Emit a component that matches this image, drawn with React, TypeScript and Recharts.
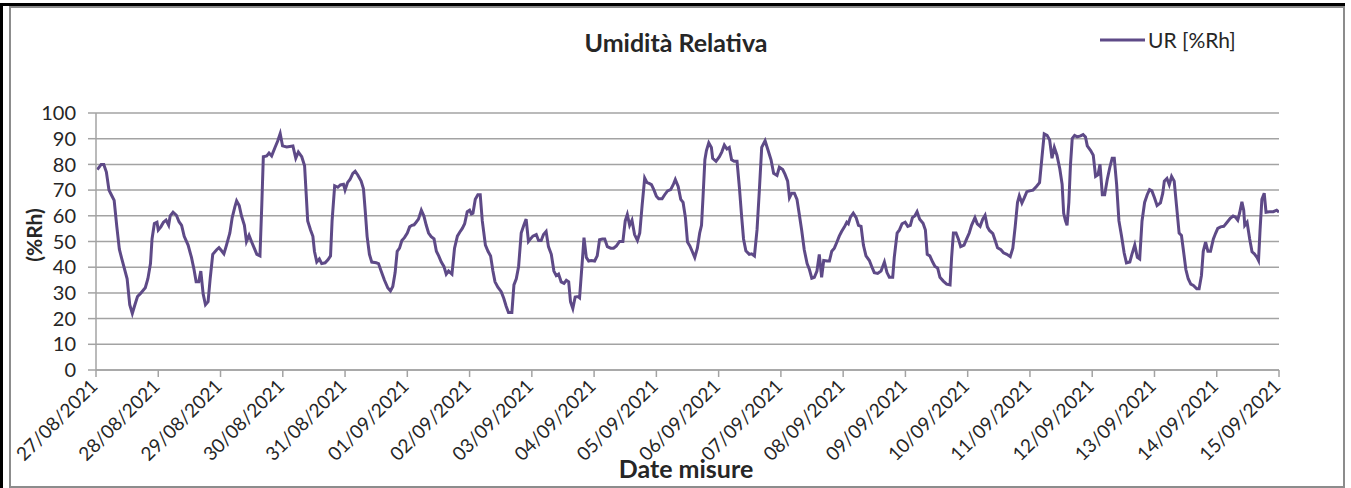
import React from 'react';
import { LineChart, Line, XAxis, YAxis, CartesianGrid, Legend } from 'recharts';

const dateLabels = [
  '27/08/2021', '28/08/2021', '29/08/2021', '30/08/2021', '31/08/2021',
  '01/09/2021', '02/09/2021', '03/09/2021', '04/09/2021', '05/09/2021',
  '06/09/2021', '07/09/2021', '08/09/2021', '09/09/2021', '10/09/2021',
  '11/09/2021', '12/09/2021', '13/09/2021', '14/09/2021', '15/09/2021',
];

// hours elapsed since 27/08/2021 00:00
const hours = [
  0.5, 2, 3, 4, 5, 6, 7, 8, 9, 10, 12, 13, 14, 15, 16, 17, 19, 20, 21, 21.6, 22.5, 23.5, 24, 25, 26, 27, 28, 28.6, 29.7, 31,
  32, 33, 34, 35.5, 36.8, 37.8, 38.6, 39.6, 40.4, 41.3, 42.2, 43.2, 44, 45, 46.5, 47.4, 48.4, 49.3, 50.3, 51.6, 52.5, 53.5, 54.2, 55.2, 56.1,
  57.2, 58, 59, 60, 61, 62, 63.2, 63.9, 64.5, 65.8, 66.7, 67.7, 69, 70, 71, 71.9, 73.5,
  75.9, 77, 78, 79.3, 80.4, 81, 81.6, 82.7, 83.6, 84.2, 85.1, 86.1, 87, 88.3, 89.4, 90.4, 91, 92, 93.2, 94.2, 95.4, 96, 97, 97.9, 99, 99.9,
  100.9, 102.2, 103.1, 103.8, 104.5, 105.4, 106.3, 108, 108.9, 109.9, 111.2, 112.5, 113.5, 114.4, 115.3, 116.1, 117, 117.9, 118.9, 120,
  120.9, 121.8, 122.6, 123.4, 124.3, 125.4, 126.4, 127.3, 128.2, 129.2, 130.3, 131.2, 132.1, 133.1, 134.1, 135, 135.9, 137.2, 138.2, 139.3,
  140.2, 141.2, 142.1, 143.1, 144, 144.7, 145.3, 146.2, 147.2, 148.1, 148.9, 150.1, 151.1, 152.1,
  153, 153.8, 154.9, 156.2, 157.2, 158.1, 159, 160.3, 161.1, 162, 162.9, 163.9, 164.9, 165.8, 166.7, 167.5, 168.4, 169.7, 170.6, 171.6,
  172.5, 173.5, 174.4, 175.5, 176.5, 177.4, 178.3, 179.3, 180.4, 181.3, 182.2, 182.9, 183.8, 184.7, 185.8, 186.4, 187.3, 188.1, 189, 189.9,
  190.9, 192.2, 193.2, 194.1, 195.2, 196.1, 197.1, 198.4, 199.5, 200.6, 201.8, 203.1, 204, 204.8, 205.7, 206.6, 207.6, 208.7, 209.6, 210.5,
  211.5, 212.4, 213.2, 214.1, 215.1, 216, 216.9, 218.2, 219.2, 220.3, 221.5, 222.5, 223.3, 224.4, 225.4, 226.3, 227.2, 228, 228.9, 229.8,
  230.8, 231.8, 232.7, 233.4, 234, 234.7, 235.3, 236.2, 237.2,
  237.7, 239, 240.3, 241.2, 242.2, 243.2, 244.1, 245, 246, 247.1, 248, 248.9, 249.6, 250.5, 251.8, 252.7, 253.8, 254.8, 255.7, 256.6,
  257.9, 258.9, 260.2, 261.2, 262.5, 263.4, 264.7, 265.6, 266.6, 267.3, 268.2, 269.2, 270.2, 271.1, 272, 273, 274.1, 275, 275.9, 276.9,
  277.9, 278.8, 279.7, 280.5, 281.8, 282.7, 283.6, 284.6, 285.6, 286.5, 287.4, 288.5, 289.4, 290, 290.8, 291.9, 293, 293.9, 294.9, 295.8,
  296.8, 298.1, 299, 300, 301.3, 302.6, 303.9, 304.9, 305.8, 307.1, 307.7, 308.8, 309.7, 310.7, 311.9, 312.9, 313.9,
  314.7, 315.6, 316.5, 317.5, 318.8, 319.7, 320.4, 321.4, 322.5, 323.4, 324.4, 325.3, 326.6, 327.9, 329.2, 329.8, 330.5, 331.5, 332.4, 333.3,
  334.6, 335.6, 336.6, 337.5, 338.8, 339.7, 340.8, 341.8, 342.7, 343.6, 344.4, 345.7, 346.6, 347.5, 348.8, 349.8, 351.1, 352.4, 353.4, 354.3,
  355.2, 355.9, 356.9, 357.8, 358.8, 359.9, 361.2, 362.5, 363.7, 364.6, 365.5, 366.6, 367.6, 368.5, 369.4, 370.4, 371.5, 372.4, 373, 373.7,
  374.3, 375, 375.6, 376.3, 377.2, 378.2, 379.5, 380.5, 381.4, 382.1, 383.4, 384.4, 385.3, 386.2, 387, 387.9, 388.8, 389.8, 390.8, 391.7,
  392.5, 393.4, 394.3, 395.3, 396.3, 397.2, 398.5, 399.3, 400.4, 401.4, 402.3, 403.2, 404.2, 405.2, 406.1, 407, 408, 409, 410.3, 411.2,
  411.8, 412.8, 413.7, 414.6, 415.6, 416.5, 417.5, 418.4, 419.2, 420.1, 421, 422, 423, 424.3, 425.2, 426.1, 426.8, 427.7, 428.6, 429.6,
  430.7, 431.6, 432.4, 433.5, 434.7, 436, 437.2, 438.3, 439.2, 440.1, 440.8, 441.7, 442.4, 442.8, 443.7, 444.7, 445.6, 446.5, 447.5, 448.1,
  448.7, 449.4, 450.3, 451, 452.3, 453.8, 455.1, 456,
];

const ur = [
  78, 80, 80, 77, 70, 68, 66, 56, 47, 43, 35.5, 25.4, 22, 25.4, 28.6, 29.6, 32, 35.5, 41.4, 51, 57, 57.5, 54.5, 55.7, 57.5, 58.3, 56.3, 60, 61.4, 60.2,
  57.7, 56.3, 52, 48.6, 43.8, 39, 34.3, 34.3, 38.5, 29.6, 25.4, 26.6, 35.5, 45, 46.8, 47.6, 46.4, 45.2, 48.6, 53.3, 59.3, 63.4, 65.8, 64, 59.9,
  56.3, 50, 52.4, 49.8, 47.4, 45, 44.4, 64, 83, 83.3, 84.4, 83.3, 86.6, 89, 92, 87.2, 86.8,
  87.2, 82.4, 84.8, 83, 79.5, 68.8, 58, 54.5, 52, 46.2, 42, 43.2, 41.4, 41.7, 42.9, 44.4, 58, 71.7, 71.1, 72, 72.3, 70, 73, 74.1, 76.5, 77.3,
  75.9, 73.5, 70.5, 61.6, 52, 45, 42, 41.7, 41.4, 38.5, 34.9, 31.9, 30.8, 32.5, 37.9, 46.2, 47.4, 50.4, 51.5, 53.3,
  55.7, 56.3, 56.5, 57.5, 58.7, 62.2, 59.9, 56.3, 53.3, 51.9, 51, 46.2, 44.4, 42, 40.3, 37.3, 38.5, 37.3, 47.4, 52.1,
  53.6, 55.1, 56.9, 61.6, 62.2, 60.7, 61, 66.4, 68.2, 68.2, 58, 48.6, 46.2, 44.4,
  38.5, 34.3, 32.2, 30.5, 27.8, 24.8, 22.4, 22.4, 33.1, 35.5, 40.3, 53.3, 56.3, 58.7, 50, 51, 52.1, 52.7, 50.4, 50.4,
  52.7, 53.9, 48, 45, 38.5, 36.7, 37.3, 34.3, 33.7, 34.9, 34.3, 26.6, 23.9, 28.4, 28.6, 28.1, 40.3, 51.5, 43.8, 42.4,
  42.6, 42.4, 44.4, 50.7, 51, 51, 48, 47.4, 47.4, 48.3, 50, 50, 58, 60.5, 56.3, 58.3, 52.7, 50.4, 53.3, 64,
  74.7, 72.9, 72.6, 72.1, 70, 67.6, 66.6, 66.6, 68.2, 69.7, 70.2, 72.1, 74.1, 71.4, 66.4, 65.2, 59.3, 49.8, 48.3, 46.2,
  43.8, 47.4, 53.3, 56.3, 67.6, 81.8, 85.4, 88.4, 86.6,
  82.4, 81.2, 83, 84.8, 87.5, 86, 86.6, 81.8, 81.2, 81.2, 71.1, 59.3, 51, 46.4, 45, 45.2, 44.4, 54.5, 70, 86.6,
  89.2, 86, 81.8, 76.5, 75.7, 78.9, 78, 76.1, 73.5, 67, 68.8, 68.8, 66.4, 60.5, 54.5, 46.8, 41.4, 39.1, 35.7, 36.1,
  38.5, 45, 36.1, 42.6, 42.4, 42.4, 46.2, 47.4, 49.8, 52.1, 53.9, 55.7, 57.5, 56.9, 59.5, 61, 59.3, 56.3, 55.9, 48.6,
  44.4, 42.6, 40.3, 37.9, 37.6, 38.5, 42, 37.9, 36.1, 36.1, 43.8, 53.3, 54.5, 56.9, 57.5, 55.9, 56.3,
  59.3, 59.9, 61.6, 58.7, 57.1, 54.5, 45, 44.4, 42, 40.3, 39.7, 36.1, 34.6, 33.4, 33.1, 43.8, 53.3, 53.3, 51, 48,
  48.6, 51, 53.3, 56.3, 59.3, 56.9, 55.9, 58.7, 60.2, 55.7, 54.3, 53.1, 50.4, 47.6, 46.8, 45.6, 45, 44.1, 47.4, 55.7,
  65.2, 67.8, 65, 67, 69.4, 69.7, 70, 71.4, 72.9, 82.4, 91.9, 91.3, 89.5, 82.4, 86.6, 83.6, 78.3, 72.3, 61, 58,
  56.3, 65.2, 79.5, 90.1, 91.3, 90.7, 91.1, 91.6, 90.7, 87.2, 85.4, 83.6, 75.3, 75.9, 80, 68.2, 68.2, 74.1, 78.9, 82.4,
  82.4, 72.3, 58, 52.1, 45.6, 41.7, 42, 45, 48.6, 43.8, 43.2, 58, 65.2, 68.2, 70.2, 69.7, 67, 64, 65, 68.8,
  73.5, 74.5, 72.1, 75.3, 73.5, 64, 53.3, 52.4, 46.2, 39.1, 35.5, 33.4, 32.9, 31.6, 31.6, 36.7, 46.2, 49.8, 46.2, 46.2,
  51, 53.3, 55.1, 55.7, 55.9, 57.5, 59, 59.9, 59.5, 58.3, 61, 65.4, 62.2, 56.3, 57.5, 51, 46, 45.2, 43.8, 42.6,
  54.5, 66.4, 68.8, 61.4, 61.6, 61.6, 62.2, 61.4,
];

const yTicks = [0, 10, 20, 30, 40, 50, 60, 70, 80, 90, 100];
const xTicks = dateLabels.map((_, i) => i * 24);

const data = hours.map((h, i) => ({ h, ur: ur[i] }));

const FONT = 'Lato, "Open Sans", sans-serif';
const TEXT = '#262626';
const GRID = '#a3a3a3';
const LINE = '#5E4A87';

function DateTick(props: any) {
  const { x, y, payload } = props;
  const idx = Math.round(payload.value / 24);
  return (
    <g transform={`translate(${x},${y})`}>
      <text
        x={0}
        y={0}
        dx={-4}
        dy={8}
        textAnchor="end"
        transform="rotate(-45)"
        fill={TEXT}
        fontSize={19}
        fontFamily={FONT}
      >
        {dateLabels[idx]}
      </text>
    </g>
  );
}

function LegendContent(props: any) {
  const { payload } = props;
  return (
    <div style={{ display: 'flex', alignItems: 'center' }}>
      {(payload || []).map((p: any) => (
        <div key={p.value} style={{ display: 'flex', alignItems: 'center' }}>
          <svg width={45} height={6} style={{ display: 'block' }}>
            <line x1={0} y1={3} x2={45} y2={3} stroke={p.color} strokeWidth={3} />
          </svg>
          <span style={{ marginLeft: 3, fontFamily: FONT, fontSize: 21, color: TEXT, lineHeight: '24px', whiteSpace: 'nowrap' }}>
            {p.value}
          </span>
        </div>
      ))}
    </div>
  );
}

export default function App() {
  return (
    <div style={{ position: 'absolute', left: 0, top: 0, width: 1351, height: 488, background: '#fff', overflow: 'hidden' }}>
      <div style={{ position: 'absolute', left: 0, top: 3, width: 1345, height: 3, background: '#000' }} />
      <div style={{ position: 'absolute', left: 0, top: 3, width: 3, height: 485, background: '#000' }} />
      <div
        style={{
          position: 'absolute', left: 9, top: 6, width: 1336, height: 482,
          border: '2px solid #8c8c8c', boxSizing: 'border-box',
        }}
      />
      <div style={{ position: 'absolute', left: 0, top: 0 }}>
        <LineChart width={1351} height={488} data={data} margin={{ top: 89, right: 72, bottom: 38, left: 36 }}>
          <CartesianGrid vertical={false} stroke={GRID} strokeWidth={1.5} />
          <XAxis
            dataKey="h"
            type="number"
            domain={[0, 456]}
            ticks={xTicks}
            interval={0}
            tick={<DateTick />}
            height={80}
            axisLine={{ stroke: GRID, strokeWidth: 1.5 }}
            tickLine={{ stroke: GRID, strokeWidth: 1.5 }}
            tickSize={7}
            allowDataOverflow
          />
          <YAxis
            domain={[0, 100]}
            ticks={yTicks}
            interval={0}
            width={60}
            tick={{ fill: TEXT, fontSize: 20, fontFamily: FONT }}
            axisLine={{ stroke: GRID, strokeWidth: 1.5 }}
            tickLine={{ stroke: GRID, strokeWidth: 1.5 }}
            tickSize={8}
            tickMargin={12}
          />
          <Legend
            verticalAlign="top"
            content={<LegendContent />}
            wrapperStyle={{ position: 'absolute', left: 1100, top: 28, width: 'auto' }}
          />
          <Line
            type="linear"
            dataKey="ur"
            name="UR [%Rh]"
            stroke={LINE}
            strokeWidth={3}
            dot={false}
            isAnimationActive={false}
          />
        </LineChart>
      </div>
      <svg width={1351} height={488} style={{ position: 'absolute', left: 0, top: 0, pointerEvents: 'none' }}>
        <text x={676} y={52} textAnchor="middle" fontFamily={FONT} fontWeight="bold" fontSize={25} fill={TEXT}>
          Umidità Relativa
        </text>
        <text x={686} y={478} textAnchor="middle" fontFamily={FONT} fontWeight="bold" fontSize={25} fill={TEXT}>
          Date misure
        </text>
        <text
          x={0}
          y={0}
          transform="translate(42,235) rotate(-90)"
          textAnchor="middle"
          fontFamily={FONT}
          fontWeight="bold"
          fontSize={21}
          fill={TEXT}
        >
          (%Rh)
        </text>
      </svg>
    </div>
  );
}
